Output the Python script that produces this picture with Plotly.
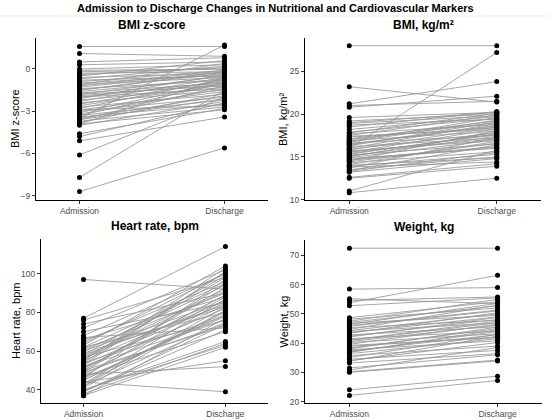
import plotly.graph_objects as go

stages = ["Admission", "Discharge"]

# BMI z-score
z_adm = [1.6, 1.1, 0.5, 0.3, 0.0, -0.1, -0.3, -0.4, -0.6, -0.7, -0.8, -0.9, -1.0, -1.1, -1.1,
         -1.3, -1.4, -1.5, -1.6, -1.7, -1.8, -1.8, -2.0, -2.1, -2.2, -2.3, -2.4, -2.5, -2.6, -2.7,
         -2.8, -2.9, -3.0, -3.1, -3.2, -3.3, -3.3, -3.4, -3.5, -3.5, -3.6, -3.7, -3.8, -3.9, -4.0,
         -1.2, -0.5, -2.0, -1.5, -2.9, -3.6, -4.6, -4.8, -5.1, -6.1, -7.7, -8.7, -3.9, -0.2, -1.9]
z_dis = [1.6, 0.9, 0.8, 0.5, 0.3, 0.0, -0.2, 0.1, -0.3, 0.2, -0.5, -0.1, -0.4, -0.6, 0.4,
         -0.2, -0.8, -0.3, -0.7, -1.0, -0.5, -1.2, -0.9, -0.4, -1.3, -0.6, -1.5, -0.8, -1.1, -1.8,
         -0.7, -1.6, -2.0, -0.9, -1.4, -2.2, -1.0, -2.5, 1.7, -1.9, -1.2, -2.7, -1.7, -2.9, -2.3,
         -0.1, 0.6, -1.4, -0.2, -2.6, -2.1, -2.8, -2.4, -3.4, -2.0, -1.5, -5.6, -0.6, 0.0, -1.1]

# BMI, kg/m2
bmi_adm = [28.0, 23.2, 21.2, 21.0, 20.8, 19.6, 19.2, 18.9, 18.5, 17.9, 17.7, 17.5, 17.3, 17.1, 16.9,
           16.8, 16.6, 16.4, 16.2, 16.0, 15.9, 15.7, 15.5, 15.4, 15.2, 15.0, 14.9, 14.7, 14.5, 14.3,
           14.1, 13.9, 13.7, 13.5, 13.4, 13.2, 12.6, 12.5, 11.0, 10.8, 16.0, 17.8, 16.3, 15.1, 14.4,
           13.8, 18.2, 15.8, 14.8, 17.0, 16.5, 13.3, 15.3, 19.0, 14.0, 16.7, 17.4, 15.6, 14.6, 18.7]
bmi_dis = [28.0, 21.4, 23.8, 21.5, 22.1, 20.2, 20.0, 19.8, 20.3, 19.5, 18.8, 19.9, 18.4, 19.2, 18.0,
           19.6, 17.5, 18.7, 17.2, 18.9, 17.8, 16.9, 18.3, 17.6, 16.5, 17.9, 17.0, 16.2, 18.1, 15.6,
           16.8, 15.3, 17.3, 15.0, 16.4, 14.8, 14.2, 13.9, 15.8, 12.5, 27.2, 20.1, 19.1, 17.4, 16.6,
           14.4, 19.7, 18.5, 16.0, 19.0, 18.6, 15.5, 17.7, 20.2, 14.9, 19.3, 18.2, 17.1, 16.1, 19.4]

# Heart rate, bpm
hr_adm = [97, 77, 76, 74, 72, 70, 68, 66, 65, 63, 62, 60, 59, 58, 57, 56, 55, 54, 53, 52,
          51, 50, 49, 48, 47, 46, 45, 44, 43, 42, 41, 40, 39, 38, 37, 37, 44, 48, 50, 53,
          55, 58, 61, 64, 67, 45, 42, 52, 56, 40, 47, 49, 43, 57, 60, 46, 54, 51, 39, 62]
hr_dis = [92, 114, 98, 90, 102, 85, 100, 88, 96, 104, 80, 94, 83, 99, 76, 91, 86, 78, 101, 82,
          89, 73, 95, 84, 70, 97, 79, 39, 87, 75, 81, 65, 74, 64, 62, 77, 55, 52, 93, 85,
          103, 84, 90, 100, 72, 80, 83, 76, 98, 63, 88, 74, 81, 92, 86, 78, 101, 89, 71, 95]

# Weight, kg
w_adm = [72.5, 58.5, 55.2, 54.6, 53.8, 52.8, 48.7, 48.2, 47.5, 46.8, 46.0, 45.3, 44.7, 44.0, 43.4,
         42.8, 42.1, 41.5, 40.9, 40.2, 39.6, 38.9, 38.3, 37.7, 37.0, 36.4, 35.7, 35.1, 34.5, 33.8,
         33.2, 31.5, 30.8, 30.2, 30.0, 24.0, 22.1, 45.8, 41.0, 36.8, 39.2, 43.6, 47.1, 34.0, 38.0,
         42.4, 44.3, 46.4, 40.5, 37.3]
w_dis = [72.5, 59.0, 53.5, 55.8, 63.2, 55.5, 54.2, 52.0, 55.0, 49.5, 51.3, 47.8, 53.0, 46.9, 50.4,
         45.6, 48.8, 44.1, 47.0, 43.2, 46.5, 42.0, 45.0, 40.8, 44.0, 41.5, 39.0, 43.0, 37.5, 42.4,
         36.4, 36.0, 38.5, 34.2, 33.9, 28.7, 27.2, 51.0, 47.5, 44.6, 41.9, 49.0, 52.8, 40.2, 45.5,
         48.1, 50.0, 53.6, 46.2, 42.9]

W, H = 550, 420
FONT = "Liberation Sans, Arial, sans-serif"


def px_x(v):
    return v / W


def px_y(v):
    return 1 - v / H


panels = [
    # title, y label, adm, dis, yrange, ticks, x-domain px, y-domain px, ylabel x px
    ("BMI z-score", "BMI z-score", z_adm, z_dis, [-9.3, 2.2], [-9, -6, -3, 0], (36, 268), (38, 200), 15),
    ("BMI, kg/m²", "BMI, kg/m²", bmi_adm, bmi_dis, [9.95, 28.9], [10, 15, 20, 25], (305, 541), (38, 200), 283),
    ("Heart rate, bpm", "Heart rate, bpm", hr_adm, hr_dis, [33.2, 117.9], [40, 60, 80, 100], (41, 268), (239, 403), 16),
    ("Weight, kg", "Weight, kg", w_adm, w_dis, [19.5, 75.3], [20, 30, 40, 50, 60, 70], (305, 542), (240, 403), 283),
]

fig = go.Figure()
annotations = []

for i, (title, ylab, adm, dis, yr, ticks, xd, yd, ylx) in enumerate(panels, start=1):
    xa = "x" if i == 1 else f"x{i}"
    ya = "y" if i == 1 else f"y{i}"

    lx, ly = [], []
    for a, d in zip(adm, dis):
        lx += [stages[0], stages[1], None]
        ly += [a, d, None]
    fig.add_trace(go.Scatter(x=lx, y=ly, mode="lines", xaxis=xa, yaxis=ya,
                             line=dict(color="rgba(150,150,150,0.85)", width=1),
                             hoverinfo="skip", showlegend=False))
    fig.add_trace(go.Scatter(x=[stages[0]] * len(adm) + [stages[1]] * len(dis), y=adm + dis,
                             mode="markers", xaxis=xa, yaxis=ya,
                             marker=dict(color="black", size=5),
                             showlegend=False))

    axis_common = dict(showline=True, linecolor="black", linewidth=1, ticks="outside",
                       ticklen=3, tickcolor="#333333", showgrid=False, zeroline=False,
                       automargin=False, tickfont=dict(family=FONT, size=8.5, color="#4d4d4d"))
    fig.update_layout({
        ("xaxis" if i == 1 else f"xaxis{i}"): dict(
            axis_common, type="category", categoryorder="array", categoryarray=stages,
            range=[-0.3, 1.3], domain=[px_x(xd[0]), px_x(xd[1])], anchor=ya),
        ("yaxis" if i == 1 else f"yaxis{i}"): dict(
            axis_common, range=yr, tickvals=ticks, domain=[px_y(yd[1]), px_y(yd[0])], anchor=xa),
    })

    annotations.append(dict(text=f"<b>{title}</b>", x=px_x((xd[0] + xd[1]) / 2), y=px_y(yd[0] - 13),
                            xref="paper", yref="paper", showarrow=False,
                            xanchor="center", yanchor="middle",
                            font=dict(family=FONT, size=12, color="black")))
    annotations.append(dict(text=ylab, x=px_x(ylx), y=px_y((yd[0] + yd[1]) / 2),
                            xref="paper", yref="paper", showarrow=False, textangle=-90,
                            xanchor="center", yanchor="middle",
                            font=dict(family=FONT, size=11, color="black")))

annotations.append(dict(text="<b>Admission to Discharge Changes in Nutritional and Cardiovascular Markers</b>",
                        x=0.5, y=px_y(8), xref="paper", yref="paper", showarrow=False,
                        xanchor="center", yanchor="middle",
                        font=dict(family=FONT, size=11, color="black")))

fig.update_layout(
    width=W, height=H,
    margin=dict(l=0, r=0, t=0, b=0),
    paper_bgcolor="white", plot_bgcolor="white",
    annotations=annotations,
    shapes=[dict(type="line", xref="paper", yref="paper", x0=0, x1=1,
                 y0=px_y(16), y1=px_y(16), line=dict(color="#ececec", width=1))],
)

# the default page body has an 8px margin; drop it so the figure sits at the corner
fig.write_html("out.html", config={"displayModeBar": False},
               post_script="document.body.style.margin='0';")
